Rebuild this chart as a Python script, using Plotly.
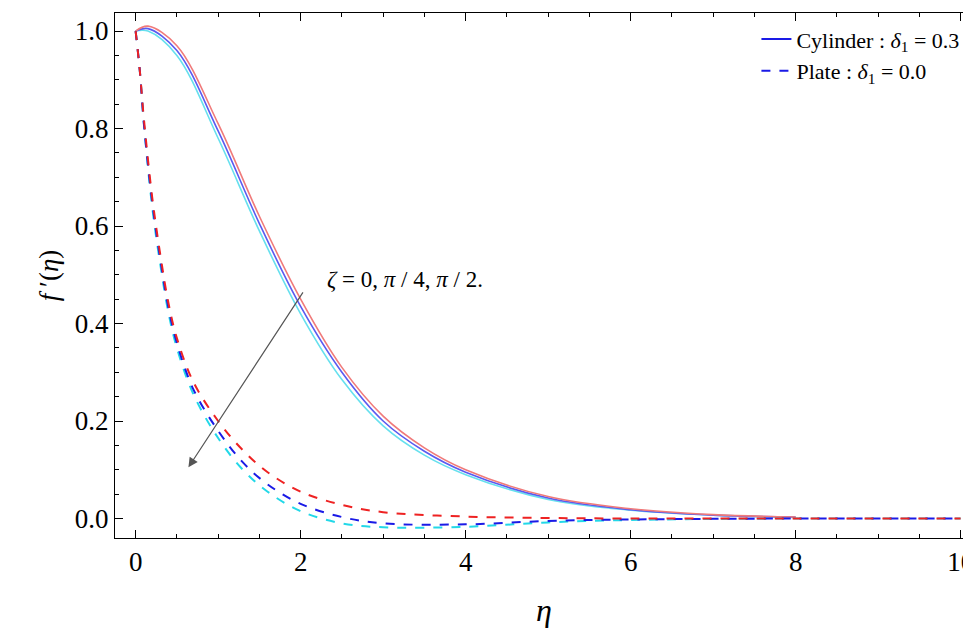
import plotly.graph_objects as go

# solid curves: cylinder, delta1 = 0.3
eta_c = [0, 0.15, 0.5, 1, 1.5, 2, 2.5, 3, 3.5, 4, 5, 6, 7, 8]
cyl_red = [1, 1.01, 0.97, 0.81, 0.62, 0.45, 0.31, 0.21, 0.145, 0.10, 0.045, 0.02, 0.008, 0.003]
cyl_blue = [1, 1.005, 0.96, 0.795, 0.605, 0.435, 0.30, 0.20, 0.138, 0.095, 0.042, 0.018, 0.007, 0.003]
cyl_cyan = [1, 1.0, 0.95, 0.78, 0.59, 0.42, 0.285, 0.19, 0.13, 0.09, 0.039, 0.017, 0.007, 0.002]

# dashed curves: plate, delta1 = 0.0
eta_p = [0, 0.05, 0.1, 0.2, 0.3, 0.4, 0.5, 0.7, 1.0, 1.3, 1.6, 2, 2.5, 3, 4, 5, 6, 8, 10]
pl_red = [1, 0.92, 0.82, 0.66, 0.54, 0.44, 0.37, 0.28, 0.2, 0.14, 0.095, 0.055, 0.028, 0.013, 0.004, 0.001, 0, 0, 0]
pl_blue = [1, 0.92, 0.81, 0.65, 0.53, 0.43, 0.36, 0.265, 0.18, 0.115, 0.07, 0.03, 0.003, -0.01, -0.012, -0.005, -0.002, 0, 0]
pl_cyan = [1, 0.92, 0.81, 0.64, 0.52, 0.42, 0.35, 0.255, 0.165, 0.1, 0.055, 0.015, -0.01, -0.018, -0.017, -0.008, -0.003, 0, 0]

x_ticks = [0, 2, 4, 6, 8, 10]
y_ticks = [0.0, 0.2, 0.4, 0.6, 0.8, 1.0]

fig = go.Figure()
for ys, c in [(cyl_cyan, "#66e0ee"), (cyl_blue, "#5a5af0"), (cyl_red, "#f07a7a")]:
    fig.add_trace(go.Scatter(x=eta_c, y=ys, mode="lines", line=dict(color=c, width=1.6, shape="spline"),
                             showlegend=False))
for ys, c in [(pl_cyan, "#22d8e8"), (pl_blue, "#1a1ae6"), (pl_red, "#ee2222")]:
    fig.add_trace(go.Scatter(x=eta_p, y=ys, mode="lines",
                             line=dict(color=c, width=2, dash="dash", shape="spline"), showlegend=False))

fig.add_trace(go.Scatter(x=[None], y=[None], mode="lines", line=dict(color="#1a1ae6", width=2),
                         name="Cylinder : <i>δ</i><sub>1</sub> = 0.3"))
fig.add_trace(go.Scatter(x=[None], y=[None], mode="lines", line=dict(color="#1a1ae6", width=2, dash="dash"),
                         name="Plate : <i>δ</i><sub>1</sub> = 0.0"))

fig.add_annotation(x=0.64, y=0.105, ax=2.04, ay=0.467, xref="x", yref="y", axref="x", ayref="y",
                   showarrow=True, arrowhead=2, arrowsize=1.6, arrowwidth=1.2, arrowcolor="#555555", text="")
fig.add_annotation(x=2.3, y=0.49, xref="x", yref="y", xanchor="left", showarrow=False,
                   text="<i>ζ</i> = 0, <i>π</i> / 4, <i>π</i> / 2.", font=dict(size=23))

axis = dict(showgrid=False, zeroline=False, showline=True, linecolor="black", linewidth=1, mirror="ticks",
            ticks="inside", ticklen=8, tickcolor="black",
            minor=dict(ticks="inside", ticklen=4, tickcolor="black"))
fig.update_xaxes(**axis, range=[-0.25, 10.15], tickvals=x_ticks, tickfont=dict(size=27),
                 title=dict(text="<i>η</i>", font=dict(size=32), standoff=22))
fig.update_yaxes(**axis, range=[-0.04, 1.037], tickvals=y_ticks, tickformat=".1f", tickfont=dict(size=27),
                 title=dict(text="<i>f</i> ′(<i>η</i>)", font=dict(size=27), standoff=8))
fig.update_layout(width=971, height=640, margin=dict(l=107, r=6, t=5, b=110),
                  plot_bgcolor="white", paper_bgcolor="white",
                  font=dict(family="Liberation Serif, Times New Roman, serif", size=22, color="black"),
                  legend=dict(x=0.99, y=0.99, xanchor="right", yanchor="top", font=dict(size=22),
                              bgcolor="rgba(0,0,0,0)"))
fig.write_html("out.html")
